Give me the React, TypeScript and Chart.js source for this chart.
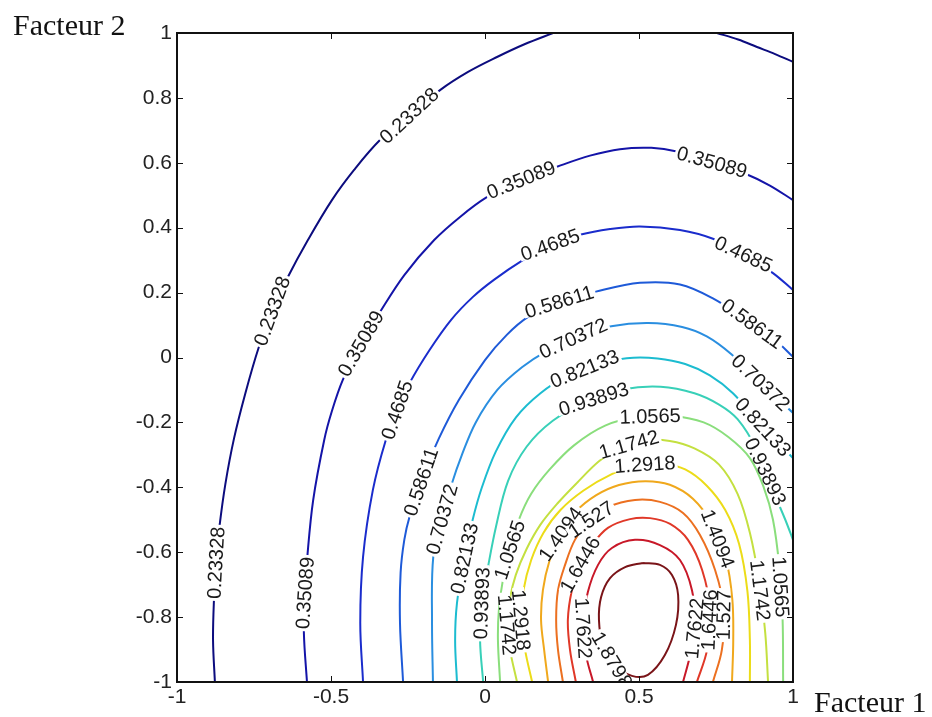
import React, { useEffect, useRef } from "react";
import { Chart, registerables } from "chart.js";

Chart.register(...registerables);

// ---------- data ----------
const levelLabels = [
  "0.23328", "0.35089", "0.4685", "0.58611", "0.70372", "0.82133", "0.93893",
  "1.0565", "1.1742", "1.2918", "1.4094", "1.527", "1.6446", "1.7622", "1.8798",
];
const lineColors = [
  "#0c0c7e", "#1414a8", "#1a2ccc", "#1e5ad8", "#2a8ee0", "#1cbcd0", "#38d0b8",
  "#8ade7c", "#c4e040", "#ecdc18", "#f0a81c", "#ec7020", "#e03828", "#c81828", "#7a1418",
];
const xTickValues = [-1, -0.5, 0, 0.5, 1];
const yTickValues = [-1, -0.8, -0.6, -0.4, -0.2, 0, 0.2, 0.4, 0.6, 0.8, 1];
const xTitle = "Facteur 1";
const yTitle = "Facteur 2";

// contour paths: [Facteur 1, Facteur 2]
const c0Left = [[-0.877,-1],[-0.883,-0.871],[-0.88,-0.747],[-0.873,-0.624],[-0.862,-0.52],[-0.843,-0.39],[-0.815,-0.25],[-0.778,-0.11],[-0.735,0.03],[-0.69,0.146],[-0.64,0.248],[-0.575,0.362],[-0.497,0.485],[-0.425,0.578],[-0.341,0.67],[-0.244,0.747],[-0.146,0.824],[-0.055,0.88],[0.039,0.926],[0.13,0.966],[0.221,1]];
const c0Right = [[0.753,1],[0.822,0.98],[0.883,0.957],[0.942,0.935],[1,0.911]];
const c1 = [[-0.578,-1],[-0.588,-0.85],[-0.585,-0.73],[-0.577,-0.615],[-0.558,-0.44],[-0.522,-0.254],[-0.497,-0.165],[-0.462,-0.07],[-0.405,0.04],[-0.343,0.137],[-0.262,0.254],[-0.165,0.362],[-0.08,0.434],[0.006,0.494],[0.114,0.546],[0.234,0.588],[0.341,0.622],[0.438,0.642],[0.54,0.646],[0.623,0.635],[0.737,0.602],[0.851,0.564],[0.925,0.53],[1,0.485]];
const c2 = [[-0.396,-1],[-0.405,-0.818],[-0.396,-0.615],[-0.364,-0.408],[-0.322,-0.254],[-0.285,-0.16],[-0.245,-0.079],[-0.18,0.023],[-0.11,0.116],[-0.04,0.186],[0.03,0.24],[0.123,0.3],[0.211,0.347],[0.308,0.378],[0.406,0.396],[0.503,0.404],[0.633,0.393],[0.74,0.366],[0.844,0.316],[0.935,0.26],[1,0.208]];
const c3 = [[-0.266,-1],[-0.276,-0.818],[-0.274,-0.663],[-0.262,-0.562],[-0.245,-0.491],[-0.2,-0.362],[-0.15,-0.25],[-0.085,-0.131],[0,-0.008],[0.07,0.069],[0.14,0.125],[0.24,0.171],[0.36,0.203],[0.503,0.23],[0.633,0.225],[0.74,0.182],[0.86,0.109],[0.942,0.054],[1,0.002]];
const c4 = [[-0.169,-1],[-0.172,-0.818],[-0.168,-0.615],[-0.14,-0.501],[-0.108,-0.39],[-0.075,-0.3],[-0.03,-0.2],[0.04,-0.1],[0.12,-0.03],[0.2,0.02],[0.3,0.065],[0.41,0.096],[0.53,0.106],[0.64,0.094],[0.72,0.065],[0.8,0.01],[0.893,-0.075],[1,-0.171]];
const c5 = [[-0.091,-1],[-0.097,-0.871],[-0.091,-0.757],[-0.068,-0.624],[-0.04,-0.5],[-0.01,-0.4],[0.035,-0.29],[0.1,-0.185],[0.18,-0.11],[0.27,-0.055],[0.37,-0.018],[0.46,-0.002],[0.56,-0.003],[0.65,-0.02],[0.73,-0.055],[0.805,-0.11],[0.893,-0.205],[1,-0.31]];
const c6 = [[-0.006,-1],[-0.016,-0.871],[-0.01,-0.747],[0.006,-0.664],[0.036,-0.52],[0.075,-0.38],[0.135,-0.275],[0.22,-0.195],[0.33,-0.135],[0.45,-0.098],[0.57,-0.09],[0.68,-0.11],[0.76,-0.145],[0.82,-0.19],[0.88,-0.28],[0.935,-0.41],[0.975,-0.5],[1,-0.562]];
const c7 = [[0.049,-1],[0.042,-0.871],[0.045,-0.778],[0.058,-0.686],[0.08,-0.593],[0.11,-0.5],[0.15,-0.42],[0.21,-0.345],[0.29,-0.27],[0.39,-0.21],[0.5,-0.182],[0.61,-0.18],[0.71,-0.2],[0.79,-0.245],[0.86,-0.31],[0.905,-0.4],[0.935,-0.5],[0.955,-0.64],[0.966,-0.8],[0.968,-1]];
const c8 = [[0.104,-1],[0.081,-0.901],[0.071,-0.824],[0.08,-0.747],[0.1,-0.67],[0.135,-0.59],[0.18,-0.515],[0.235,-0.45],[0.3,-0.385],[0.37,-0.32],[0.44,-0.275],[0.52,-0.255],[0.6,-0.257],[0.68,-0.28],[0.76,-0.33],[0.82,-0.42],[0.86,-0.54],[0.89,-0.69],[0.91,-0.85],[0.919,-1]];
const c9 = [[0.153,-1],[0.13,-0.901],[0.117,-0.809],[0.125,-0.717],[0.15,-0.624],[0.19,-0.54],[0.245,-0.47],[0.32,-0.41],[0.41,-0.36],[0.5,-0.33],[0.58,-0.328],[0.65,-0.345],[0.72,-0.395],[0.78,-0.47],[0.825,-0.575],[0.852,-0.72],[0.86,-0.87],[0.86,-1]];
const c10 = [[0.205,-1],[0.192,-0.901],[0.182,-0.809],[0.188,-0.717],[0.21,-0.624],[0.245,-0.545],[0.295,-0.475],[0.36,-0.425],[0.435,-0.393],[0.52,-0.381],[0.6,-0.392],[0.675,-0.435],[0.735,-0.51],[0.782,-0.62],[0.803,-0.745],[0.806,-0.87],[0.802,-1]];
const c11 = [[0.253,-1],[0.237,-0.901],[0.231,-0.809],[0.237,-0.717],[0.26,-0.639],[0.292,-0.562],[0.341,-0.501],[0.399,-0.461],[0.487,-0.439],[0.568,-0.445],[0.643,-0.479],[0.698,-0.547],[0.747,-0.655],[0.776,-0.778],[0.769,-0.901],[0.74,-1]];
const c12 = [[0.295,-1],[0.276,-0.901],[0.269,-0.809],[0.282,-0.717],[0.308,-0.639],[0.347,-0.578],[0.399,-0.525],[0.471,-0.498],[0.536,-0.495],[0.601,-0.513],[0.659,-0.562],[0.705,-0.655],[0.731,-0.778],[0.721,-0.901],[0.688,-1]];
const c13 = [[0.351,-1],[0.328,-0.917],[0.318,-0.824],[0.334,-0.723],[0.367,-0.639],[0.412,-0.587],[0.487,-0.562],[0.568,-0.578],[0.633,-0.624],[0.672,-0.717],[0.682,-0.824],[0.666,-0.917],[0.643,-1]];
const c14 = [[0.513,-0.633],[0.455,-0.646],[0.406,-0.68],[0.377,-0.738],[0.37,-0.809],[0.383,-0.886],[0.422,-0.948],[0.477,-0.981],[0.529,-0.978],[0.584,-0.917],[0.62,-0.824],[0.627,-0.732],[0.607,-0.67],[0.568,-0.639],[0.513,-0.633]];

const contourPaths = [
  { level: 0, points: c0Left }, { level: 0, points: c0Right },
  { level: 1, points: c1 }, { level: 2, points: c2 }, { level: 3, points: c3 },
  { level: 4, points: c4 }, { level: 5, points: c5 }, { level: 6, points: c6 },
  { level: 7, points: c7 }, { level: 8, points: c8 }, { level: 9, points: c9 },
  { level: 10, points: c10 }, { level: 11, points: c11 }, { level: 12, points: c12 },
  { level: 13, points: c13 }, { level: 14, points: c14 },
];

// inline label spots: [level, Facteur 1, Facteur 2]
const labelSpots = [
  [0,-0.24,0.738],[0,-0.682,0.14],[0,-0.87,-0.633],
  [1,0.12,0.541],[1,0.737,0.602],[1,-0.39,0.035],[1,-0.584,-0.726],
  [2,0.214,0.341],[2,0.838,0.316],[2,-0.276,-0.165],
  [3,0.244,0.162],[3,0.86,0.094],[3,-0.205,-0.384],
  [4,0.292,0.048],[4,0.893,-0.079],[4,-0.13,-0.501],
  [5,0.331,-0.054],[5,0.903,-0.214],[5,-0.071,-0.618],
  [6,0.357,-0.14],[6,0.915,-0.35],[6,-0.016,-0.757],
  [7,0.536,-0.183],[7,0.951,-0.707],[7,0.081,-0.593],
  [8,0.464,-0.257],[8,0.899,-0.717],[8,0.058,-0.824],
  [9,0.519,-0.328],[9,0.114,-0.809],
  [10,0.227,-0.532],[10,0.747,-0.562],
  [11,0.341,-0.495],[11,0.779,-0.794],
  [12,0.318,-0.643],[12,0.731,-0.809],
  [13,0.318,-0.834],[13,0.672,-0.834],
  [14,0.438,-0.917],
];

const fmt = (v: number) => String(Math.round(v * 10) / 10);

const decorPlugin = {
  id: "contourDecor",
  afterDatasetsDraw(chart: any) {
    const { ctx, chartArea: a, scales } = chart;
    const xs = scales.x, ys = scales.y;
    ctx.save();
    ctx.beginPath();
    ctx.rect(a.left, a.top, a.right - a.left, a.bottom - a.top);
    ctx.clip();
    ctx.font = '20px "Liberation Sans", Arial, sans-serif';
    ctx.textAlign = "center";
    ctx.textBaseline = "middle";
    for (const [lv, lx, ly] of labelSpots) {
      const tx = xs.getPixelForValue(lx), ty = ys.getPixelForValue(ly);
      let best: any = null;
      let bestD = Infinity;
      contourPaths.forEach((p) => {
        if (p.level !== lv) return;
        const pts = p.points.map(([x, y]) => [xs.getPixelForValue(x), ys.getPixelForValue(y)]);
        for (let i = 0; i < pts.length - 1; i++) {
          const [x1, y1] = pts[i], [x2, y2] = pts[i + 1];
          const dx = x2 - x1, dy = y2 - y1;
          const L = dx * dx + dy * dy;
          let t = L ? ((tx - x1) * dx + (ty - y1) * dy) / L : 0;
          t = Math.max(0, Math.min(1, t));
          const qx = x1 + t * dx, qy = y1 + t * dy;
          const d = (qx - tx) ** 2 + (qy - ty) ** 2;
          if (d < bestD) { bestD = d; best = { qx, qy, i, pts }; }
        }
      });
      if (!best) continue;
      const { pts, i } = best;
      const p0 = pts[Math.max(0, i - 1)], p1 = pts[Math.min(pts.length - 1, i + 2)];
      let ang = Math.atan2(p1[1] - p0[1], p1[0] - p0[0]);
      if (ang > Math.PI / 2) ang -= Math.PI;
      if (ang < -Math.PI / 2) ang += Math.PI;
      const text = levelLabels[lv];
      ctx.save();
      ctx.translate(best.qx, best.qy);
      ctx.rotate(ang);
      const w = ctx.measureText(text).width;
      ctx.fillStyle = "#ffffff";
      ctx.fillRect(-w / 2 - 2, -6, w + 4, 12);
      ctx.fillStyle = "#1a1a1a";
      ctx.fillText(text, 0, 1);
      ctx.restore();
    }
    ctx.restore();

    // box and inward ticks
    ctx.save();
    ctx.strokeStyle = "#111";
    ctx.lineWidth = 1;
    ctx.beginPath();
    for (const v of xTickValues) {
      const px = Math.round(xs.getPixelForValue(v)) + 0.5;
      ctx.moveTo(px, a.bottom); ctx.lineTo(px, a.bottom - 6);
      ctx.moveTo(px, a.top); ctx.lineTo(px, a.top + 6);
    }
    for (const v of yTickValues) {
      const py = Math.round(ys.getPixelForValue(v)) + 0.5;
      ctx.moveTo(a.left, py); ctx.lineTo(a.left + 6, py);
      ctx.moveTo(a.right, py); ctx.lineTo(a.right - 6, py);
    }
    ctx.stroke();
    ctx.lineWidth = 2;
    ctx.strokeRect(a.left, a.top, a.right - a.left, a.bottom - a.top);
    ctx.restore();
  },
  afterDraw(chart: any) {
    const { ctx } = chart;
    ctx.save();
    ctx.fillStyle = "#111";
    ctx.font = '30px "Liberation Serif", "Times New Roman", serif';
    ctx.textAlign = "left";
    ctx.textBaseline = "alphabetic";
    ctx.fillText(yTitle, 13, 35);
    ctx.fillText(xTitle, 814, 712);
    ctx.restore();
  },
};

export default function App() {
  const ref = useRef<HTMLCanvasElement | null>(null);
  useEffect(() => {
    if (!ref.current) return;
    const datasets = contourPaths.map((p) => ({
      data: p.points.map(([x, y]) => ({ x, y })),
      showLine: true,
      borderColor: lineColors[p.level],
      backgroundColor: lineColors[p.level],
      borderWidth: 2,
      pointRadius: 0,
      tension: 0.35,
      fill: false,
    }));
    const tickFont = { family: '"Liberation Sans", Arial, sans-serif', size: 21 };
    const chart = new Chart(ref.current, {
      type: "scatter",
      data: { datasets },
      plugins: [decorPlugin],
      options: {
        responsive: false,
        animation: false,
        layout: { padding: { top: 33, right: 139, left: 0, bottom: 0 } },
        plugins: { legend: { display: false }, tooltip: { enabled: false } },
        scales: {
          x: {
            type: "linear",
            min: -1,
            max: 1,
            afterBuildTicks: (s: any) => { s.ticks = xTickValues.map((v) => ({ value: v })); },
            afterFit: (s: any) => { s.height = 35; },
            ticks: { callback: (v: any) => fmt(Number(v)), font: tickFont, color: "#222", padding: 3, maxRotation: 0, autoSkip: false },
            grid: { display: false, drawTicks: false },
            border: { display: false },
          },
          y: {
            type: "linear",
            min: -1,
            max: 1,
            afterBuildTicks: (s: any) => { s.ticks = yTickValues.map((v) => ({ value: v })); },
            afterFit: (s: any) => { s.width = 177; },
            ticks: { callback: (v: any) => fmt(Number(v)), font: tickFont, color: "#222", padding: 5, autoSkip: false },
            grid: { display: false, drawTicks: false },
            border: { display: false },
          },
        },
      } as any,
    });
    return () => chart.destroy();
  }, []);
  return (
    <div style={{ position: "fixed", left: 0, top: 0, width: 932, height: 717, background: "#fff" }}>
      <canvas ref={ref} width={932} height={717} style={{ display: "block" }} />
    </div>
  );
}
